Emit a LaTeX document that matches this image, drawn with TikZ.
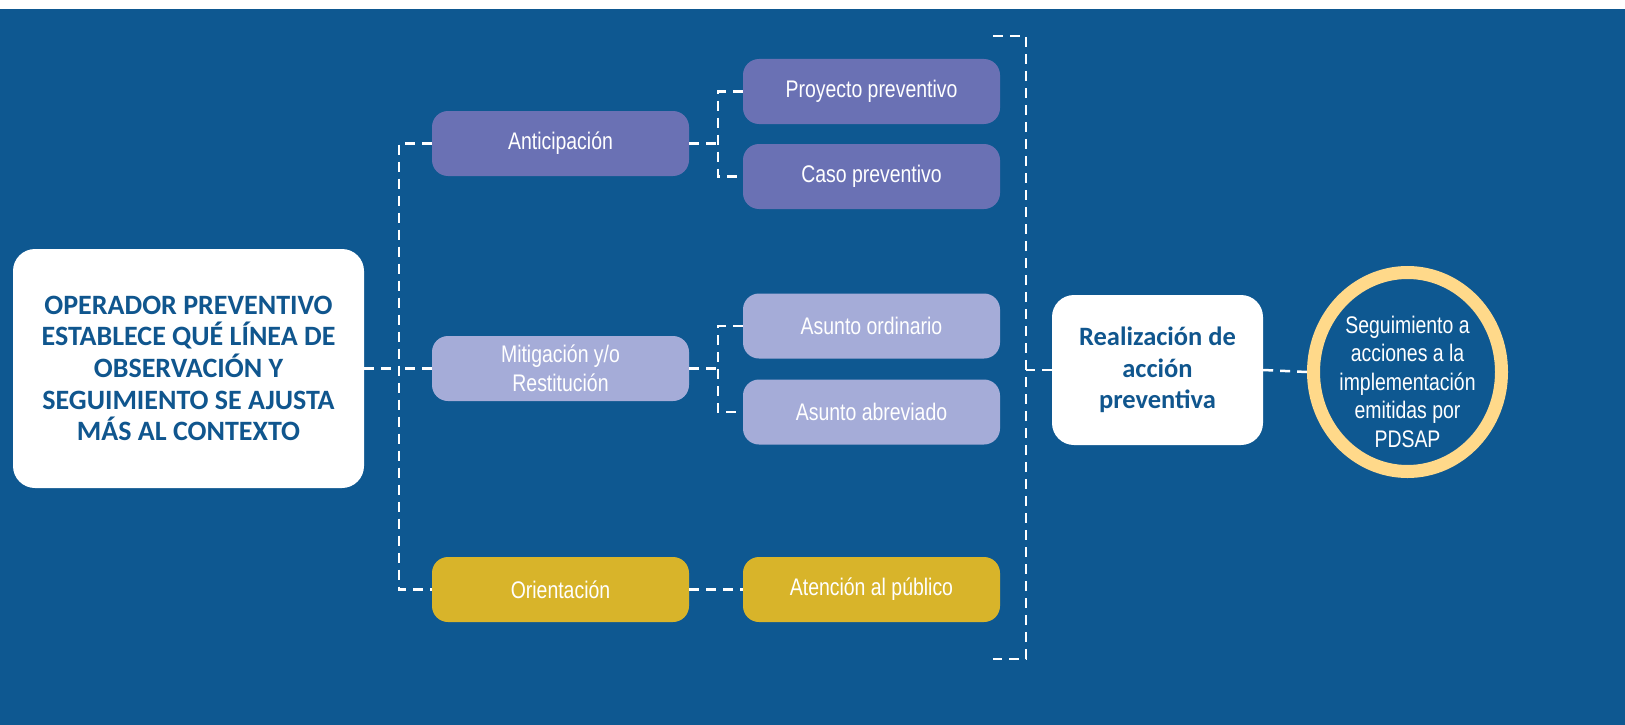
\documentclass[tikz,border=0pt]{standalone}
\usepackage{fontspec}
\setmainfont{Liberation Sans}[FakeStretch=0.81]
\newfontfamily\titlefont{Carlito}
\usetikzlibrary{shapes.geometric}

\definecolor{fondo}{RGB}{14,88,145}
\definecolor{azultexto}{RGB}{16,86,142}
\definecolor{lila}{RGB}{106,113,180}
\definecolor{lilaclaro}{RGB}{165,172,216}
\definecolor{oro}{RGB}{216,180,42}
\definecolor{anillo}{RGB}{255,217,138}

\begin{document}
\begin{tikzpicture}[x=1pt, y=-1pt,
	box/.style={rounded corners=16pt, minimum width=257pt, minimum height=65pt,
		inner sep=0pt, align=center, text=white, font=\fontsize{24}{29}\selectfont},
	bigbox/.style={fill=white, rounded corners=22pt, inner sep=0pt, align=center,
		text=azultexto, font=\titlefont\bfseries\fontsize{28}{31.7}\selectfont},
	link/.style={draw=white, line width=2.5pt, dash pattern=on 10pt off 7pt}]

	% background
	\useasboundingbox (0,0) rectangle (1625,725);
	\fill[white] (0,0) rectangle (1625,9);
	\fill[fondo] (0,9) rectangle (1625,725);

	% bus lines
	\coordinate (bus1) at (399,0);
	\coordinate (bus2) at (718,0);
	\coordinate (bus3) at (1026,0);
	\coordinate (brTop) at (993,36);
	\coordinate (brBot) at (993,659);

	% boxes
	\node[bigbox, minimum width=351pt, minimum height=239pt] (op) at (188.5,368.5)
		{OPERADOR PREVENTIVO\\ESTABLECE QUÉ LÍNEA DE\\OBSERVACIÓN Y\\SEGUIMIENTO SE AJUSTA\\MÁS AL CONTEXTO};

	\node[box, fill=lila] (anti) at (560.5,143.5) {Anticipación};
	\node[box, fill=lilaclaro] (miti) at (560.5,368.5) {Mitigación y/o\\Restitución};
	\node[box, fill=oro] (orie) at (560.5,589.5) {Orientación};

	\node[box, fill=lila] (proy) at (871.5,91.5) {Proyecto preventivo};
	\node[box, fill=lila] (caso) at (871.5,176.5) {Caso preventivo};
	\node[box, fill=lilaclaro] (ordi) at (871.5,326) {Asunto ordinario};
	\node[box, fill=lilaclaro] (abre) at (871.5,412) {Asunto abreviado};
	\node[box, fill=oro] (aten) at (871.5,589.5) {Atención al público};

	\node[bigbox, minimum width=211pt, minimum height=150pt,
		font=\titlefont\bfseries\fontsize{26.5}{31.5}\selectfont] (real) at (1157.5,370)
		{Realización de\\acción\\preventiva};

	% ring
	\node[ellipse, draw=anillo, line width=13pt, minimum width=188pt, minimum height=199pt,
		inner sep=0pt] (seg) at (1407.5,372) {};
	\node[align=center, text=white, font=\fontsize{24}{28.5}\selectfont] (segtxt) at (1407.5,381.5)
		{Seguimiento a\\acciones a la\\implementación\\emitidas por\\PDSAP};

	% connectors
	\draw[link] (op.east) -- (op.east -| bus1);
	\draw[link] (anti.west) -| (bus1 |- orie.west) -- (orie.west);
	\draw[link] (miti.west) -- (miti.west -| bus1);

	\draw[link] (anti.east) -- (anti.east -| bus2);
	\draw[link] (proy.west) -| (bus2 |- caso.west) -- (caso.west);
	\draw[link] (miti.east) -- (miti.east -| bus2);
	\draw[link] (ordi.west) -| (bus2 |- abre.west) -- (abre.west);
	\draw[link] (orie.east) -- (aten.west);

	\draw[link] (brTop) -| (bus3 |- brBot) -- (brBot);
	\draw[link] (real.west) -- (real.west -| bus3);
	\draw[link] (real.east) -- (seg.west);

\end{tikzpicture}
\end{document}
